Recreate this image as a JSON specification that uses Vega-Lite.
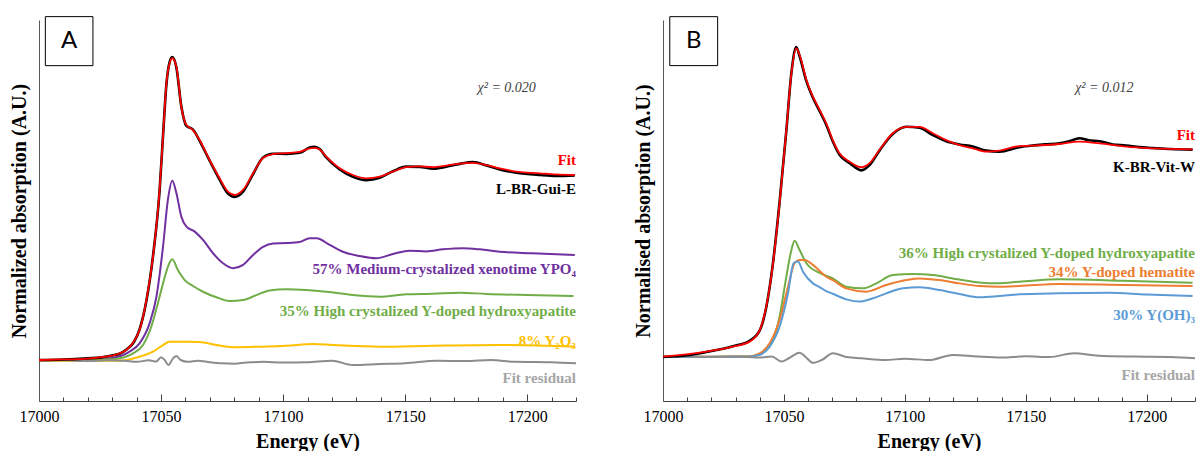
{
  "$schema": "https://vega.github.io/schema/vega-lite/v6.json",
  "autosize": {"type": "pad"},
  "padding": {"left": 9, "top": 16, "right": 0, "bottom": 0},
  "spacing": 87,
  "bounds": "flush",
  "background": "white",
  "config": {"view": {"stroke": null}, "font": "Liberation Serif, Times New Roman, DejaVu Serif, serif"},
  "datasets": {
    "A": [
      {"s":"fit","E":17000,"v":0},{"s":"fit","E":17010,"v":0.003},{"s":"fit","E":17020,"v":0.008},{"s":"fit","E":17025,"v":0.014},{"s":"fit","E":17030,"v":0.024},{"s":"fit","E":17033,"v":0.035},{"s":"fit","E":17036,"v":0.057},{"s":"fit","E":17039,"v":0.103},{"s":"fit","E":17041.2,"v":0.162},{"s":"fit","E":17044,"v":0.324},{"s":"fit","E":17046.7,"v":0.558},{"s":"fit","E":17049.4,"v":0.919},{"s":"fit","E":17050.8,"v":1.207},{"s":"fit","E":17052.2,"v":1.496},{"s":"fit","E":17053.5,"v":1.604},{"s":"fit","E":17054.6,"v":1.631},{"s":"fit","E":17056.3,"v":1.585},{"s":"fit","E":17058.3,"v":1.369},{"s":"fit","E":17060.4,"v":1.27},{"s":"fit","E":17063.1,"v":1.243},{"s":"fit","E":17065.8,"v":1.189},{"s":"fit","E":17069.9,"v":1.081},{"s":"fit","E":17074,"v":0.982},{"s":"fit","E":17077.4,"v":0.91},{"s":"fit","E":17080.2,"v":0.892},{"s":"fit","E":17083.6,"v":0.919},{"s":"fit","E":17087.7,"v":1.009},{"s":"fit","E":17091.8,"v":1.092},{"s":"fit","E":17095.9,"v":1.113},{"s":"fit","E":17101.4,"v":1.118},{"s":"fit","E":17106.8,"v":1.125},{"s":"fit","E":17110.9,"v":1.144},{"s":"fit","E":17112.9,"v":1.147},{"s":"fit","E":17115,"v":1.138},{"s":"fit","E":17117.7,"v":1.099},{"s":"fit","E":17123.2,"v":1.036},{"s":"fit","E":17128.6,"v":1.0},{"s":"fit","E":17134.1,"v":0.982},{"s":"fit","E":17139.6,"v":0.991},{"s":"fit","E":17145,"v":1.018},{"s":"fit","E":17150.5,"v":1.043},{"s":"fit","E":17156,"v":1.047},{"s":"fit","E":17161.4,"v":1.042},{"s":"fit","E":17166.9,"v":1.051},{"s":"fit","E":17172.4,"v":1.062},{"s":"fit","E":17177.8,"v":1.066},{"s":"fit","E":17183.3,"v":1.054},{"s":"fit","E":17188.8,"v":1.036},{"s":"fit","E":17195.6,"v":1.018},{"s":"fit","E":17205.2,"v":1.009},{"s":"fit","E":17212,"v":1.003},{"s":"fit","E":17219.5,"v":1.0},

      {"s":"data","E":17000,"v":0},{"s":"data","E":17010,"v":0.003},{"s":"data","E":17020,"v":0.009},{"s":"data","E":17025,"v":0.013},{"s":"data","E":17030,"v":0.025},{"s":"data","E":17033,"v":0.034},{"s":"data","E":17036,"v":0.058},{"s":"data","E":17039,"v":0.1},{"s":"data","E":17041.2,"v":0.165},{"s":"data","E":17044,"v":0.32},{"s":"data","E":17046.7,"v":0.562},{"s":"data","E":17049.4,"v":0.915},{"s":"data","E":17050.8,"v":1.21},{"s":"data","E":17052.2,"v":1.49},{"s":"data","E":17053.5,"v":1.61},{"s":"data","E":17054.6,"v":1.638},{"s":"data","E":17056.3,"v":1.58},{"s":"data","E":17058.3,"v":1.372},{"s":"data","E":17060.4,"v":1.265},{"s":"data","E":17063.1,"v":1.245},{"s":"data","E":17065.8,"v":1.185},{"s":"data","E":17069.9,"v":1.078},{"s":"data","E":17074,"v":0.975},{"s":"data","E":17077.4,"v":0.9},{"s":"data","E":17080.2,"v":0.882},{"s":"data","E":17083.6,"v":0.91},{"s":"data","E":17087.7,"v":1.005},{"s":"data","E":17091.8,"v":1.095},{"s":"data","E":17095.9,"v":1.115},{"s":"data","E":17101.4,"v":1.114},{"s":"data","E":17106.8,"v":1.12},{"s":"data","E":17110.9,"v":1.148},{"s":"data","E":17112.9,"v":1.152},{"s":"data","E":17115,"v":1.14},{"s":"data","E":17117.7,"v":1.095},{"s":"data","E":17123.2,"v":1.03},{"s":"data","E":17128.6,"v":0.99},{"s":"data","E":17134.1,"v":0.972},{"s":"data","E":17139.6,"v":0.985},{"s":"data","E":17145,"v":1.02},{"s":"data","E":17150.5,"v":1.045},{"s":"data","E":17156,"v":1.044},{"s":"data","E":17161.4,"v":1.034},{"s":"data","E":17166.9,"v":1.045},{"s":"data","E":17172.4,"v":1.06},{"s":"data","E":17177.8,"v":1.07},{"s":"data","E":17183.3,"v":1.052},{"s":"data","E":17188.8,"v":1.03},{"s":"data","E":17195.6,"v":1.012},{"s":"data","E":17205.2,"v":1.0},{"s":"data","E":17212,"v":0.995},{"s":"data","E":17219.5,"v":0.998},

      {"s":"xenotime","E":17000,"v":0},{"s":"xenotime","E":17020,"v":0.003},{"s":"xenotime","E":17030,"v":0.011},{"s":"xenotime","E":17037.1,"v":0.045},{"s":"xenotime","E":17041.2,"v":0.09},{"s":"xenotime","E":17045.3,"v":0.198},{"s":"xenotime","E":17048.1,"v":0.342},{"s":"xenotime","E":17050.8,"v":0.612},{"s":"xenotime","E":17052.8,"v":0.865},{"s":"xenotime","E":17054.6,"v":0.969},{"s":"xenotime","E":17056.3,"v":0.901},{"s":"xenotime","E":17058.3,"v":0.775},{"s":"xenotime","E":17060.4,"v":0.721},{"s":"xenotime","E":17063.8,"v":0.694},{"s":"xenotime","E":17067.2,"v":0.649},{"s":"xenotime","E":17071.3,"v":0.577},{"s":"xenotime","E":17075.4,"v":0.523},{"s":"xenotime","E":17079.5,"v":0.496},{"s":"xenotime","E":17083.6,"v":0.514},{"s":"xenotime","E":17087.7,"v":0.568},{"s":"xenotime","E":17091.8,"v":0.612},{"s":"xenotime","E":17095.9,"v":0.63},{"s":"xenotime","E":17101.4,"v":0.632},{"s":"xenotime","E":17106.8,"v":0.638},{"s":"xenotime","E":17110.9,"v":0.658},{"s":"xenotime","E":17113.7,"v":0.658},{"s":"xenotime","E":17119.1,"v":0.622},{"s":"xenotime","E":17124.5,"v":0.585},{"s":"xenotime","E":17131.4,"v":0.562},{"s":"xenotime","E":17138.2,"v":0.55},{"s":"xenotime","E":17145,"v":0.573},{"s":"xenotime","E":17151.9,"v":0.591},{"s":"xenotime","E":17158.7,"v":0.587},{"s":"xenotime","E":17165.5,"v":0.598},{"s":"xenotime","E":17173.7,"v":0.604},{"s":"xenotime","E":17180.6,"v":0.598},{"s":"xenotime","E":17188.8,"v":0.585},{"s":"xenotime","E":17202,"v":0.577},{"s":"xenotime","E":17219.5,"v":0.568},

      {"s":"hydroxyapatite","E":17000,"v":0},{"s":"hydroxyapatite","E":17030,"v":0.004},{"s":"hydroxyapatite","E":17033,"v":0.009},{"s":"hydroxyapatite","E":17038.5,"v":0.036},{"s":"hydroxyapatite","E":17042.6,"v":0.081},{"s":"hydroxyapatite","E":17046,"v":0.18},{"s":"hydroxyapatite","E":17048.7,"v":0.306},{"s":"hydroxyapatite","E":17050.8,"v":0.414},{"s":"hydroxyapatite","E":17052.8,"v":0.504},{"s":"hydroxyapatite","E":17054.6,"v":0.544},{"s":"hydroxyapatite","E":17056.9,"v":0.486},{"s":"hydroxyapatite","E":17059.7,"v":0.432},{"s":"hydroxyapatite","E":17063.1,"v":0.4},{"s":"hydroxyapatite","E":17067.2,"v":0.369},{"s":"hydroxyapatite","E":17072.7,"v":0.339},{"s":"hydroxyapatite","E":17078.1,"v":0.319},{"s":"hydroxyapatite","E":17083.6,"v":0.324},{"s":"hydroxyapatite","E":17089.1,"v":0.351},{"s":"hydroxyapatite","E":17094.5,"v":0.376},{"s":"hydroxyapatite","E":17101.4,"v":0.382},{"s":"hydroxyapatite","E":17109.5,"v":0.378},{"s":"hydroxyapatite","E":17117.7,"v":0.369},{"s":"hydroxyapatite","E":17128.6,"v":0.351},{"s":"hydroxyapatite","E":17139.6,"v":0.342},{"s":"hydroxyapatite","E":17150.5,"v":0.355},{"s":"hydroxyapatite","E":17161.4,"v":0.358},{"s":"hydroxyapatite","E":17172.4,"v":0.364},{"s":"hydroxyapatite","E":17183.3,"v":0.357},{"s":"hydroxyapatite","E":17200,"v":0.351},{"s":"hydroxyapatite","E":17219,"v":0.346},

      {"s":"Y2O3","E":17000,"v":-0.004},{"s":"Y2O3","E":17033,"v":-0.004},{"s":"Y2O3","E":17041.2,"v":0.018},{"s":"Y2O3","E":17046.7,"v":0.045},{"s":"Y2O3","E":17050.8,"v":0.081},{"s":"Y2O3","E":17053.5,"v":0.099},{"s":"Y2O3","E":17060.4,"v":0.099},{"s":"Y2O3","E":17065.8,"v":0.097},{"s":"Y2O3","E":17072.7,"v":0.081},{"s":"Y2O3","E":17079.5,"v":0.069},{"s":"Y2O3","E":17090.4,"v":0.072},{"s":"Y2O3","E":17101.4,"v":0.077},{"s":"Y2O3","E":17112.3,"v":0.086},{"s":"Y2O3","E":17120.4,"v":0.081},{"s":"Y2O3","E":17139.6,"v":0.072},{"s":"Y2O3","E":17161.4,"v":0.077},{"s":"Y2O3","E":17188.8,"v":0.081},{"s":"Y2O3","E":17219.5,"v":0.072},

      {"s":"residual","E":17000,"v":-0.004},{"s":"residual","E":17010,"v":-0.002},{"s":"residual","E":17020,"v":-0.006},{"s":"residual","E":17028,"v":-0.002},{"s":"residual","E":17035,"v":-0.004},{"s":"residual","E":17040,"v":-0.01},{"s":"residual","E":17045,"v":-0.002},{"s":"residual","E":17048,"v":-0.008},{"s":"residual","E":17050,"v":0.015},{"s":"residual","E":17051.5,"v":0.0},{"s":"residual","E":17053,"v":-0.027},{"s":"residual","E":17055,"v":0.01},{"s":"residual","E":17056.3,"v":0.022},{"s":"residual","E":17058,"v":0.0},{"s":"residual","E":17061,"v":-0.01},{"s":"residual","E":17065,"v":-0.004},{"s":"residual","E":17070,"v":-0.012},{"s":"residual","E":17075,"v":-0.018},{"s":"residual","E":17080,"v":-0.02},{"s":"residual","E":17085,"v":-0.014},{"s":"residual","E":17092,"v":-0.01},{"s":"residual","E":17100,"v":-0.014},{"s":"residual","E":17110,"v":-0.012},{"s":"residual","E":17120,"v":-0.004},{"s":"residual","E":17128.6,"v":-0.027},{"s":"residual","E":17139.6,"v":-0.022},{"s":"residual","E":17150,"v":-0.018},{"s":"residual","E":17163,"v":-0.004},{"s":"residual","E":17175,"v":-0.006},{"s":"residual","E":17185,"v":0.0},{"s":"residual","E":17195,"v":-0.01},{"s":"residual","E":17210,"v":-0.012},{"s":"residual","E":17220,"v":-0.018}
    ],
    "Alab": [
      {"E":17220,"v":1.081,"t":"Fit","k":"fit"},
      {"E":17220,"v":0.924,"t":"L-BR-Gui-E","k":"data"},
      {"E":17220,"v":0.49,"t":"57% Medium-crystalized xenotime YPO₄","k":"xenotime"},
      {"E":17220,"v":0.266,"t":"35% High crystalized Y-doped hydroxyapatite","k":"hydroxyapatite"},
      {"E":17220,"v":0.103,"t":"8% Y₂O₃","k":"Y2O3"},
      {"E":17220,"v":-0.097,"t":"Fit residual","k":"residual"}
    ],
    "Anote": [{"E":17191.6,"v":1.47,"t":"χ² = 0.020"}],
    "Abox": [{"E":17002.6,"E2":17022.1,"v":1.856,"v2":1.591,"Em":17012.35,"vm":1.723,"t":"A"}],

    "B": [
      {"s":"fit","E":17000,"v":0.002},{"s":"fit","E":17017.9,"v":0.026},{"s":"fit","E":17028.9,"v":0.05},{"s":"fit","E":17035.8,"v":0.074},{"s":"fit","E":17040,"v":0.13},{"s":"fit","E":17042.7,"v":0.243},{"s":"fit","E":17045.5,"v":0.452},{"s":"fit","E":17048.2,"v":0.741},{"s":"fit","E":17051,"v":1.094},{"s":"fit","E":17053.1,"v":1.368},{"s":"fit","E":17055.1,"v":1.488},{"s":"fit","E":17056.5,"v":1.456},{"s":"fit","E":17059.3,"v":1.336},{"s":"fit","E":17062,"v":1.255},{"s":"fit","E":17064.8,"v":1.191},{"s":"fit","E":17067.5,"v":1.127},{"s":"fit","E":17070.2,"v":1.046},{"s":"fit","E":17073,"v":0.982},{"s":"fit","E":17077.2,"v":0.942},{"s":"fit","E":17082,"v":0.915},{"s":"fit","E":17085.4,"v":0.934},{"s":"fit","E":17089.5,"v":0.998},{"s":"fit","E":17095,"v":1.079},{"s":"fit","E":17100.6,"v":1.11},{"s":"fit","E":17106.1,"v":1.11},{"s":"fit","E":17111.6,"v":1.079},{"s":"fit","E":17117.1,"v":1.046},{"s":"fit","E":17122.6,"v":1.022},{"s":"fit","E":17128.1,"v":1.006},{"s":"fit","E":17133.6,"v":0.99},{"s":"fit","E":17139.1,"v":0.995},{"s":"fit","E":17147.4,"v":1.017},{"s":"fit","E":17152.9,"v":1.019},{"s":"fit","E":17163.9,"v":1.027},{"s":"fit","E":17172.2,"v":1.038},{"s":"fit","E":17180.5,"v":1.03},{"s":"fit","E":17191.5,"v":1.014},{"s":"fit","E":17202.5,"v":1.006},{"s":"fit","E":17219,"v":1.001},

      {"s":"data","E":17000,"v":0.0},{"s":"data","E":17010,"v":0.008},{"s":"data","E":17017.9,"v":0.024},{"s":"data","E":17028.9,"v":0.052},{"s":"data","E":17035.8,"v":0.078},{"s":"data","E":17040,"v":0.128},{"s":"data","E":17042.7,"v":0.24},{"s":"data","E":17045.5,"v":0.455},{"s":"data","E":17048.2,"v":0.745},{"s":"data","E":17051,"v":1.09},{"s":"data","E":17053.1,"v":1.37},{"s":"data","E":17055.1,"v":1.495},{"s":"data","E":17056.5,"v":1.45},{"s":"data","E":17059.3,"v":1.33},{"s":"data","E":17062,"v":1.25},{"s":"data","E":17064.8,"v":1.185},{"s":"data","E":17067.5,"v":1.12},{"s":"data","E":17070.2,"v":1.04},{"s":"data","E":17073,"v":0.975},{"s":"data","E":17077.2,"v":0.935},{"s":"data","E":17082,"v":0.9},{"s":"data","E":17085.4,"v":0.925},{"s":"data","E":17089.5,"v":0.995},{"s":"data","E":17095,"v":1.075},{"s":"data","E":17100.6,"v":1.11},{"s":"data","E":17106.1,"v":1.105},{"s":"data","E":17111.6,"v":1.07},{"s":"data","E":17117.1,"v":1.04},{"s":"data","E":17122.6,"v":1.025},{"s":"data","E":17128.1,"v":1.015},{"s":"data","E":17133.6,"v":0.995},{"s":"data","E":17139.1,"v":0.99},{"s":"data","E":17147.4,"v":1.012},{"s":"data","E":17152.9,"v":1.02},{"s":"data","E":17158,"v":1.025},{"s":"data","E":17163.9,"v":1.03},{"s":"data","E":17168,"v":1.04},{"s":"data","E":17172.2,"v":1.055},{"s":"data","E":17176,"v":1.045},{"s":"data","E":17180.5,"v":1.04},{"s":"data","E":17186,"v":1.025},{"s":"data","E":17191.5,"v":1.02},{"s":"data","E":17197,"v":1.012},{"s":"data","E":17202.5,"v":1.008},{"s":"data","E":17210,"v":1.003},{"s":"data","E":17219,"v":1.0},

      {"s":"hydroxyapatite","E":17000,"v":0.0},{"s":"hydroxyapatite","E":17035,"v":0.002},{"s":"hydroxyapatite","E":17042.7,"v":0.034},{"s":"hydroxyapatite","E":17045.5,"v":0.082},{"s":"hydroxyapatite","E":17048.2,"v":0.194},{"s":"hydroxyapatite","E":17051,"v":0.387},{"s":"hydroxyapatite","E":17053.1,"v":0.516},{"s":"hydroxyapatite","E":17054.4,"v":0.561},{"s":"hydroxyapatite","E":17056.5,"v":0.516},{"s":"hydroxyapatite","E":17059.3,"v":0.452},{"s":"hydroxyapatite","E":17064.8,"v":0.405},{"s":"hydroxyapatite","E":17070.2,"v":0.379},{"s":"hydroxyapatite","E":17075.8,"v":0.339},{"s":"hydroxyapatite","E":17082.6,"v":0.331},{"s":"hydroxyapatite","E":17088.2,"v":0.355},{"s":"hydroxyapatite","E":17095,"v":0.395},{"s":"hydroxyapatite","E":17103.3,"v":0.4},{"s":"hydroxyapatite","E":17111.6,"v":0.395},{"s":"hydroxyapatite","E":17119.8,"v":0.379},{"s":"hydroxyapatite","E":17128.1,"v":0.363},{"s":"hydroxyapatite","E":17136.4,"v":0.355},{"s":"hydroxyapatite","E":17147.4,"v":0.363},{"s":"hydroxyapatite","E":17163.9,"v":0.375},{"s":"hydroxyapatite","E":17190,"v":0.368},{"s":"hydroxyapatite","E":17219,"v":0.358},

      {"s":"hematite","E":17000,"v":0.0},{"s":"hematite","E":17035,"v":0.002},{"s":"hematite","E":17040,"v":0.018},{"s":"hematite","E":17044.1,"v":0.066},{"s":"hematite","E":17048.2,"v":0.178},{"s":"hematite","E":17051.7,"v":0.339},{"s":"hematite","E":17054.4,"v":0.452},{"s":"hematite","E":17056.5,"v":0.468},{"s":"hematite","E":17058.6,"v":0.468},{"s":"hematite","E":17062,"v":0.444},{"s":"hematite","E":17067.5,"v":0.387},{"s":"hematite","E":17070.2,"v":0.371},{"s":"hematite","E":17075.8,"v":0.331},{"s":"hematite","E":17084,"v":0.315},{"s":"hematite","E":17092.3,"v":0.347},{"s":"hematite","E":17100.6,"v":0.371},{"s":"hematite","E":17106.1,"v":0.379},{"s":"hematite","E":17114.3,"v":0.371},{"s":"hematite","E":17122.6,"v":0.355},{"s":"hematite","E":17130.9,"v":0.342},{"s":"hematite","E":17139.1,"v":0.339},{"s":"hematite","E":17147.4,"v":0.342},{"s":"hematite","E":17163.9,"v":0.352},{"s":"hematite","E":17191,"v":0.347},{"s":"hematite","E":17219,"v":0.342},

      {"s":"YOH3","E":17000,"v":0.0},{"s":"YOH3","E":17035,"v":0.001},{"s":"YOH3","E":17040,"v":0.01},{"s":"YOH3","E":17044.1,"v":0.05},{"s":"YOH3","E":17048.2,"v":0.146},{"s":"YOH3","E":17051.7,"v":0.307},{"s":"YOH3","E":17054,"v":0.452},{"s":"YOH3","E":17055.8,"v":0.46},{"s":"YOH3","E":17057.9,"v":0.411},{"s":"YOH3","E":17062,"v":0.355},{"s":"YOH3","E":17064.8,"v":0.337},{"s":"YOH3","E":17067.5,"v":0.318},{"s":"YOH3","E":17070.2,"v":0.305},{"s":"YOH3","E":17075.8,"v":0.278},{"s":"YOH3","E":17081.3,"v":0.267},{"s":"YOH3","E":17086.8,"v":0.283},{"s":"YOH3","E":17092.3,"v":0.307},{"s":"YOH3","E":17099.2,"v":0.331},{"s":"YOH3","E":17106.1,"v":0.336},{"s":"YOH3","E":17114.3,"v":0.323},{"s":"YOH3","E":17122.6,"v":0.304},{"s":"YOH3","E":17130.9,"v":0.288},{"s":"YOH3","E":17139.1,"v":0.294},{"s":"YOH3","E":17147.4,"v":0.302},{"s":"YOH3","E":17163.9,"v":0.307},{"s":"YOH3","E":17184,"v":0.31},{"s":"YOH3","E":17200,"v":0.301},{"s":"YOH3","E":17219,"v":0.294},

      {"s":"residual","E":17000,"v":0.0},{"s":"residual","E":17010,"v":0.002},{"s":"residual","E":17020,"v":0.0},{"s":"residual","E":17030,"v":0.002},{"s":"residual","E":17040,"v":-0.002},{"s":"residual","E":17045,"v":0.002},{"s":"residual","E":17049,"v":-0.022},{"s":"residual","E":17052,"v":-0.006},{"s":"residual","E":17056.5,"v":0.021},{"s":"residual","E":17059,"v":0.0},{"s":"residual","E":17062,"v":-0.028},{"s":"residual","E":17066,"v":-0.012},{"s":"residual","E":17070.2,"v":0.018},{"s":"residual","E":17076,"v":0.0},{"s":"residual","E":17082,"v":-0.006},{"s":"residual","E":17092,"v":-0.015},{"s":"residual","E":17100,"v":-0.008},{"s":"residual","E":17110,"v":-0.015},{"s":"residual","E":17119.8,"v":0.01},{"s":"residual","E":17130,"v":0.002},{"s":"residual","E":17140,"v":-0.003},{"s":"residual","E":17150,"v":0.003},{"s":"residual","E":17160,"v":0.0},{"s":"residual","E":17170,"v":0.018},{"s":"residual","E":17180,"v":0.006},{"s":"residual","E":17195,"v":0.002},{"s":"residual","E":17210,"v":0.0},{"s":"residual","E":17220,"v":-0.006}
    ],
    "Blab": [
      {"E":17220,"v":1.07,"t":"Fit","k":"fit"},
      {"E":17220,"v":0.918,"t":"K-BR-Vit-W","k":"data"},
      {"E":17220,"v":0.5,"t":"36% High crystalized Y-doped hydroxyapatite","k":"hydroxyapatite"},
      {"E":17220,"v":0.411,"t":"34% Y-doped hematite","k":"hematite"},
      {"E":17220,"v":0.203,"t":"30% Y(OH)₃","k":"YOH3"},
      {"E":17220,"v":-0.087,"t":"Fit residual","k":"residual"}
    ],
    "Bnote": [{"E":17182.5,"v":1.297,"t":"χ² = 0.012"}],
    "Bbox": [{"E":17002.8,"E2":17022.6,"v":1.641,"v2":1.405,"Em":17012.7,"vm":1.523,"t":"B"}]
  },
  "hconcat": [
    {
      "width": 537,
      "height": 381,
      "encoding": {
        "x": {"field": "E", "type": "quantitative", "title": "Energy (eV)",
          "scale": {"domain": [17000, 17220], "nice": false, "zero": false},
          "axis": {"values": [17000,17010,17020,17030,17040,17050,17060,17070,17080,17090,17100,17110,17120,17130,17140,17150,17160,17170,17180,17190,17200,17210,17220],
            "labelExpr": "datum.value % 50 === 0 ? format(datum.value, 'd') : ''",
            "tickSize": {"condition": {"test": "datum.value % 50 === 0", "value": -7}, "value": -4},
            "tickColor": "#404040", "domainColor": "#404040", "domainWidth": 1.2,
            "labelFont": "Liberation Serif, Times New Roman, DejaVu Serif, serif", "labelFontSize": 16, "labelColor": "#000", "labelPadding": 14,
            "labelFlush": false, "labelOverlap": false, "grid": false,
            "titleFont": "Liberation Serif, Times New Roman, DejaVu Serif, serif", "titleFontSize": 20, "titleFontWeight": "bold", "titleColor": "#000", "titlePadding": 4}},
        "y": {"field": "v", "type": "quantitative", "title": "Normalized absorption (A.U.)",
          "scale": {"domain": [-0.2216, 1.8378], "nice": false, "zero": false},
          "axis": {"labels": false, "ticks": false, "grid": false, "domainColor": "#595959",
            "titleFont": "Liberation Serif, Times New Roman, DejaVu Serif, serif", "titleFontSize": 20, "titleFontWeight": "bold", "titleColor": "#000", "titlePadding": 10}}
      },
      "layer": [
        {"data": {"name": "A"}, "transform": [{"filter": "datum.s != 'fit' && datum.s != 'data'"}],
          "mark": {"type": "line", "strokeWidth": 2, "interpolate": "monotone"},
          "encoding": {"color": {"field": "s", "type": "nominal", "legend": null,
            "scale": {"domain": ["xenotime","hydroxyapatite","Y2O3","residual"], "range": ["#7030A0","#70AD47","#FFC000","#8C8C8C"]}}}},
        {"data": {"name": "A"}, "transform": [{"filter": "datum.s == 'data'"}],
          "mark": {"type": "line", "strokeWidth": 2.6, "color": "#000000", "interpolate": "monotone"}, "encoding": {}},
        {"data": {"name": "A"}, "transform": [{"filter": "datum.s == 'fit'"}],
          "mark": {"type": "line", "strokeWidth": 1.8, "color": "#FF0000", "interpolate": "monotone"}, "encoding": {}},
        {"data": {"name": "Alab"},
          "mark": {"type": "text", "align": "right", "baseline": "middle", "font": "Liberation Serif, Times New Roman, DejaVu Serif, serif", "fontSize": 15, "fontWeight": "bold"},
          "encoding": {"text": {"field": "t"}, "color": {"field": "k", "type": "nominal", "legend": null,
            "scale": {"domain": ["fit","data","xenotime","hydroxyapatite","Y2O3","residual"], "range": ["#FF0000","#000000","#7030A0","#70AD47","#FFC000","#A6A6A6"]}}}},
        {"data": {"name": "Anote"},
          "mark": {"type": "text", "align": "center", "baseline": "middle", "font": "Liberation Serif, Times New Roman, DejaVu Serif, serif", "fontSize": 14, "fontStyle": "italic", "color": "#404040"},
          "encoding": {"text": {"field": "t"}}},
        {"data": {"name": "Abox"},
          "mark": {"type": "rect", "fill": "white", "stroke": "#000000", "strokeWidth": 1},
          "encoding": {"x2": {"field": "E2"}, "y2": {"field": "v2"}}},
        {"data": {"name": "Abox"},
          "mark": {"type": "text", "align": "center", "baseline": "middle", "font": "Lato", "fontSize": 24, "color": "#000000"},
          "encoding": {"x": {"field": "Em", "type": "quantitative"}, "y": {"field": "vm", "type": "quantitative"}, "text": {"field": "t"}}}
      ],
      "resolve": {"scale": {"color": "independent"}}
    },
    {
      "width": 532,
      "height": 381,
      "encoding": {
        "x": {"field": "E", "type": "quantitative", "title": "Energy (eV)",
          "scale": {"domain": [17000, 17220], "nice": false, "zero": false},
          "axis": {"values": [17000,17010,17020,17030,17040,17050,17060,17070,17080,17090,17100,17110,17120,17130,17140,17150,17160,17170,17180,17190,17200,17210,17220],
            "labelExpr": "datum.value % 50 === 0 ? format(datum.value, 'd') : ''",
            "tickSize": {"condition": {"test": "datum.value % 50 === 0", "value": -7}, "value": -4},
            "tickColor": "#404040", "domainColor": "#404040", "domainWidth": 1.2,
            "labelFont": "Liberation Serif, Times New Roman, DejaVu Serif, serif", "labelFontSize": 16, "labelColor": "#000", "labelPadding": 14,
            "labelFlush": false, "labelOverlap": false, "grid": false,
            "titleFont": "Liberation Serif, Times New Roman, DejaVu Serif, serif", "titleFontSize": 20, "titleFontWeight": "bold", "titleColor": "#000", "titlePadding": 4}},
        "y": {"field": "v", "type": "quantitative", "title": "Normalised absorption (A.U.)",
          "scale": {"domain": [-0.2122, 1.6249], "nice": false, "zero": false},
          "axis": {"labels": false, "ticks": false, "grid": false, "domainColor": "#595959",
            "titleFont": "Liberation Serif, Times New Roman, DejaVu Serif, serif", "titleFontSize": 20, "titleFontWeight": "bold", "titleColor": "#000", "titlePadding": 10}}
      },
      "layer": [
        {"data": {"name": "B"}, "transform": [{"filter": "datum.s != 'fit' && datum.s != 'data'"}],
          "mark": {"type": "line", "strokeWidth": 2, "interpolate": "monotone"},
          "encoding": {"color": {"field": "s", "type": "nominal", "legend": null,
            "scale": {"domain": ["hydroxyapatite","hematite","YOH3","residual"], "range": ["#70AD47","#ED7D31","#5B9BD5","#8C8C8C"]}}}},
        {"data": {"name": "B"}, "transform": [{"filter": "datum.s == 'data'"}],
          "mark": {"type": "line", "strokeWidth": 2.6, "color": "#000000", "interpolate": "monotone"}, "encoding": {}},
        {"data": {"name": "B"}, "transform": [{"filter": "datum.s == 'fit'"}],
          "mark": {"type": "line", "strokeWidth": 1.8, "color": "#FF0000", "interpolate": "monotone"}, "encoding": {}},
        {"data": {"name": "Blab"},
          "mark": {"type": "text", "align": "right", "baseline": "middle", "font": "Liberation Serif, Times New Roman, DejaVu Serif, serif", "fontSize": 15, "fontWeight": "bold"},
          "encoding": {"text": {"field": "t"}, "color": {"field": "k", "type": "nominal", "legend": null,
            "scale": {"domain": ["fit","data","hydroxyapatite","hematite","YOH3","residual"], "range": ["#FF0000","#000000","#70AD47","#ED7D31","#5B9BD5","#A6A6A6"]}}}},
        {"data": {"name": "Bnote"},
          "mark": {"type": "text", "align": "center", "baseline": "middle", "font": "Liberation Serif, Times New Roman, DejaVu Serif, serif", "fontSize": 14, "fontStyle": "italic", "color": "#404040"},
          "encoding": {"text": {"field": "t"}}},
        {"data": {"name": "Bbox"},
          "mark": {"type": "rect", "fill": "white", "stroke": "#000000", "strokeWidth": 1},
          "encoding": {"x2": {"field": "E2"}, "y2": {"field": "v2"}}},
        {"data": {"name": "Bbox"},
          "mark": {"type": "text", "align": "center", "baseline": "middle", "font": "Lato", "fontSize": 24, "color": "#000000"},
          "encoding": {"x": {"field": "Em", "type": "quantitative"}, "y": {"field": "vm", "type": "quantitative"}, "text": {"field": "t"}}}
      ],
      "resolve": {"scale": {"color": "independent"}}
    }
  ]
}
